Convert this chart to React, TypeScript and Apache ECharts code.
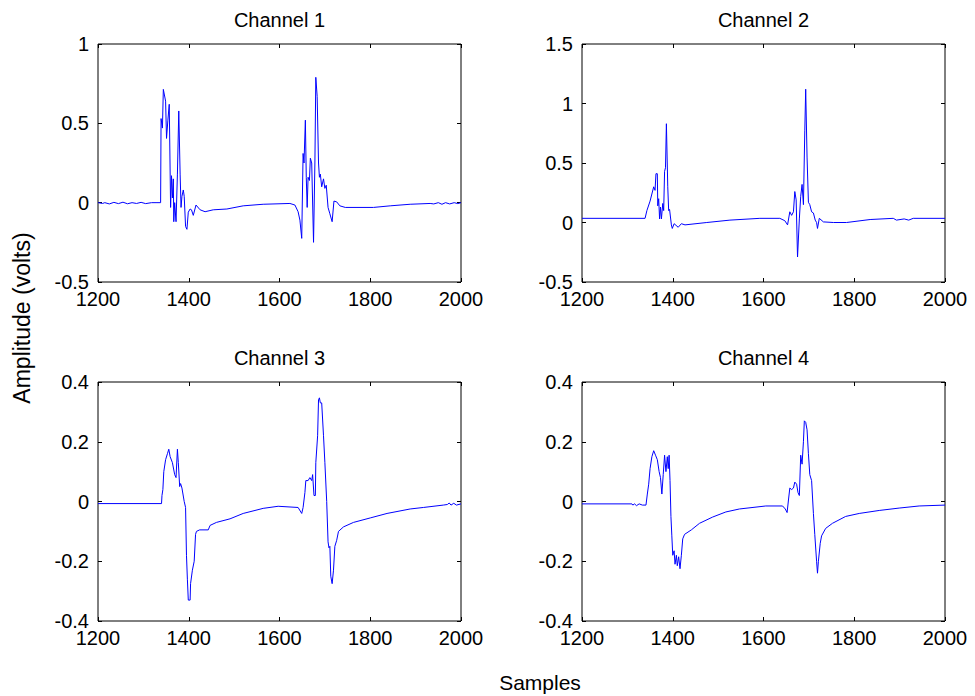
import React, { useEffect, useRef } from "react";
import * as echarts from "echarts";

const channelTitles = ["Channel 1", "Channel 2", "Channel 3", "Channel 4"];
const xRange = [1200, 2000, 200];
const yRanges = [
  [-0.5, 1, 0.5],
  [-0.5, 1.5, 0.5],
  [-0.4, 0.4, 0.2],
  [-0.4, 0.4, 0.2],
];
const xLabel = "Samples";
const yLabel = "Amplitude (volts)";

const ch1: number[][] = [
  [1200, 0], [1210, -0.005], [1215, 0.0], [1225, -0.008], [1235, 0.002], [1245, -0.006],
  [1255, 0.003], [1265, -0.007], [1275, 0.0], [1285, -0.005], [1295, 0.002], [1305, -0.006],
  [1318, 0.0], [1330, 0.0], [1338, 0.0],
  [1339, 0.53], [1342, 0.47], [1344, 0.714], [1349, 0.64], [1351, 0.405], [1354, 0.52],
  [1357, 0.62], [1360, -0.03], [1362, 0.17], [1364, 0.03], [1366, 0.15], [1367, -0.12],
  [1369, 0.0], [1372, -0.12], [1375, 0.18], [1378, 0.578], [1381, 0.18], [1383, -0.03],
  [1385, 0.04], [1388, 0.08], [1390, 0.04], [1393, -0.15], [1396, -0.168], [1399, -0.06],
  [1403, -0.04], [1406, -0.045], [1410, -0.08], [1416, -0.015], [1425, -0.045],
  [1436, -0.057], [1454, -0.045], [1484, -0.04], [1520, -0.02], [1564, -0.01],
  [1623, -0.005], [1634, -0.015], [1641, -0.057], [1645, -0.11], [1649, -0.225],
  [1652, 0.31], [1654, 0.25], [1657, 0.52], [1659, 0.16], [1661, -0.03], [1663, 0.16],
  [1666, 0.14], [1668, 0.28], [1671, 0.25], [1675, -0.25], [1678, 0.25], [1680, 0.79],
  [1683, 0.67], [1686, 0.25], [1688, 0.16], [1690, 0.18], [1693, 0.1], [1697, 0.15],
  [1700, 0.09], [1703, 0.11], [1707, -0.03], [1711, -0.07], [1716, -0.12], [1720, 0.01],
  [1726, 0.005], [1733, -0.02], [1745, -0.03], [1807, -0.03], [1844, -0.02],
  [1888, -0.01], [1932, -0.005], [1940, -0.008], [1950, 0.0], [1958, -0.01], [1966, 0.0],
  [1975, -0.008], [1985, 0.0], [1993, -0.006], [2000, 0.0],
];

const ch2: number[][] = [
  [1200, 0.035], [1339, 0.035], [1343, 0.1], [1350, 0.18], [1358, 0.3], [1361, 0.27],
  [1363, 0.41], [1366, 0.41], [1367, 0.14], [1369, 0.2], [1371, 0.03], [1373, 0.13],
  [1375, 0.03], [1378, 0.16], [1380, 0.1], [1382, 0.43], [1384, 0.46], [1386, 0.83],
  [1389, 0.3], [1391, 0.1], [1393, 0.11], [1397, -0.02], [1399, -0.05], [1403, -0.01],
  [1412, -0.04], [1419, -0.01], [1427, -0.02], [1475, 0.0], [1526, 0.02], [1592, 0.035],
  [1636, 0.035], [1647, 0.015], [1653, -0.02], [1658, 0.09], [1662, 0.06], [1666, 0.09],
  [1669, 0.26], [1672, 0.19], [1675, -0.29], [1679, 0.03], [1682, 0.22], [1685, 0.32],
  [1688, 0.15], [1691, 0.77], [1693, 1.12], [1696, 0.55], [1699, 0.17], [1702, 0.15],
  [1706, 0.09], [1710, 0.08], [1714, 0.02], [1717, 0.0], [1719, -0.05], [1723, 0.035],
  [1732, 0.005], [1754, 0.0], [1783, 0.0], [1835, 0.025], [1886, 0.035], [1893, 0.02],
  [1910, 0.03], [1920, 0.02], [1930, 0.035], [2000, 0.035],
];

const ch3: number[][] = [
  [1200, -0.007], [1340, -0.007], [1341, 0.02], [1343, 0.04], [1345, 0.1], [1349, 0.14],
  [1353, 0.16], [1356, 0.175], [1359, 0.15], [1364, 0.13], [1369, 0.09], [1372, 0.08],
  [1375, 0.175], [1377, 0.13], [1380, 0.05], [1382, 0.06], [1385, 0.045], [1390, 0.0],
  [1393, -0.02], [1395, -0.18], [1397, -0.26], [1399, -0.33], [1403, -0.33], [1404, -0.275],
  [1408, -0.23], [1412, -0.2], [1415, -0.11], [1417, -0.1], [1424, -0.095], [1443, -0.095],
  [1447, -0.08], [1461, -0.07], [1491, -0.058], [1520, -0.04], [1564, -0.023],
  [1597, -0.016], [1641, -0.02], [1649, -0.04], [1652, -0.02], [1656, 0.03], [1658, 0.07],
  [1663, 0.07], [1667, 0.08], [1671, 0.07], [1673, 0.09], [1676, 0.02], [1679, 0.02],
  [1680, 0.13], [1684, 0.22], [1686, 0.34], [1688, 0.347], [1690, 0.33], [1693, 0.33],
  [1697, 0.22], [1700, 0.13], [1704, 0.0], [1707, -0.135], [1709, -0.155], [1711, -0.15],
  [1713, -0.25], [1716, -0.275], [1719, -0.23], [1722, -0.15], [1726, -0.13], [1730, -0.1],
  [1741, -0.085], [1763, -0.07], [1800, -0.055], [1837, -0.04], [1888, -0.025],
  [1917, -0.02], [1961, -0.012], [1970, -0.01], [1974, -0.005], [1978, -0.012],
  [1984, -0.006], [1990, -0.012], [2000, -0.008],
];

const ch4: number[][] = [
  [1200, -0.008], [1310, -0.008], [1312, -0.012], [1316, -0.008], [1320, -0.014],
  [1326, -0.008], [1333, -0.012], [1341, -0.012], [1344, 0.025], [1347, 0.058], [1350, 0.11],
  [1354, 0.15], [1358, 0.17], [1362, 0.155], [1366, 0.14], [1370, 0.1], [1373, 0.08],
  [1376, 0.025], [1379, 0.09], [1382, 0.155], [1385, 0.1], [1388, 0.15], [1390, 0.11],
  [1392, 0.155], [1394, 0.07], [1396, -0.05], [1398, -0.115], [1400, -0.18], [1403, -0.165],
  [1405, -0.21], [1408, -0.18], [1410, -0.215], [1413, -0.185], [1416, -0.225],
  [1419, -0.18], [1422, -0.125], [1426, -0.11], [1441, -0.095], [1459, -0.073],
  [1488, -0.052], [1517, -0.035], [1547, -0.025], [1605, -0.015], [1642, -0.015],
  [1648, -0.025], [1652, -0.037], [1655, 0.005], [1658, 0.045], [1662, 0.04], [1666, 0.045],
  [1669, 0.065], [1673, 0.058], [1676, 0.03], [1679, 0.02], [1682, 0.155], [1685, 0.125],
  [1688, 0.2], [1690, 0.27], [1693, 0.265], [1696, 0.24], [1699, 0.16], [1702, 0.09],
  [1706, 0.07], [1710, -0.04], [1713, -0.11], [1717, -0.2], [1719, -0.24], [1721, -0.2],
  [1725, -0.14], [1728, -0.115], [1737, -0.09], [1752, -0.073], [1781, -0.05],
  [1811, -0.04], [1855, -0.03], [1899, -0.022], [1943, -0.015], [2000, -0.012],
];

const channels = [ch1, ch2, ch3, ch4];

const FONT = "'Liberation Sans', Arial, sans-serif";

const fmtNum = (v: number) => String(Math.round(v * 1000) / 1000);

export default function App() {
  const ref = useRef<HTMLDivElement>(null);

  useEffect(() => {
    if (!ref.current) return;
    const chart = echarts.init(ref.current, undefined, { renderer: "svg" });

    const boxes = [
      { left: 98, top: 44, width: 363, height: 238 },
      { left: 582, top: 44, width: 363, height: 238 },
      { left: 98, top: 382, width: 363, height: 239 },
      { left: 582, top: 382, width: 363, height: 239 },
    ];

    const grid = boxes.map((b) => ({
      ...b,
      show: true,
      borderColor: "#000",
      borderWidth: 1,
      containLabel: false,
    }));

    const tick = { show: true, inside: true, length: 4, lineStyle: { color: "#000", width: 1 } };
    const label = { color: "#000", fontSize: 20, fontFamily: FONT, formatter: fmtNum };
    const noLine = { show: false, onZero: false };

    const xAxis: any[] = [];
    const yAxis: any[] = [];
    const series: any[] = [];
    boxes.forEach((_, i) => {
      const [ymin, ymax, yint] = yRanges[i];
      xAxis.push({
        type: "value", gridIndex: i, position: "bottom",
        min: xRange[0], max: xRange[1], interval: xRange[2],
        axisLine: noLine, axisTick: tick, splitLine: { show: false },
        axisLabel: { ...label, margin: 7, showMinLabel: true, showMaxLabel: true },
      });
      xAxis.push({
        type: "value", gridIndex: i, position: "top",
        min: xRange[0], max: xRange[1], interval: xRange[2],
        axisLine: noLine, axisTick: tick, splitLine: { show: false },
        axisLabel: { show: false },
      });
      yAxis.push({
        type: "value", gridIndex: i, position: "left",
        min: ymin, max: ymax, interval: yint,
        axisLine: noLine, axisTick: tick, splitLine: { show: false },
        axisLabel: { ...label, margin: 9, showMinLabel: true, showMaxLabel: true },
      });
      yAxis.push({
        type: "value", gridIndex: i, position: "right",
        min: ymin, max: ymax, interval: yint,
        axisLine: noLine, axisTick: tick, splitLine: { show: false },
        axisLabel: { show: false },
      });
      series.push({
        type: "line",
        name: channelTitles[i],
        xAxisIndex: 2 * i,
        yAxisIndex: 2 * i,
        data: channels[i],
        showSymbol: false,
        symbol: "none",
        silent: true,
        lineStyle: { color: "#0000ff", width: 1 },
      });
    });

    const graphic: any[] = boxes.map((b, i) => ({
      type: "text",
      x: b.left + b.width / 2,
      y: b.top - 24,
      style: {
        text: channelTitles[i],
        fill: "#000",
        fontSize: 20,
        fontFamily: FONT,
        textAlign: "center",
        textVerticalAlign: "middle",
      },
    }));
    graphic.push({
      type: "text",
      x: 540,
      y: 682,
      style: { text: xLabel, fill: "#000", fontSize: 21, fontFamily: FONT, textAlign: "center", textVerticalAlign: "middle" },
    });
    graphic.push({
      type: "text",
      x: 22,
      y: 318,
      rotation: Math.PI / 2,
      style: { text: yLabel, fill: "#000", fontSize: 23, fontFamily: FONT, textAlign: "center", textVerticalAlign: "middle" },
    });

    chart.setOption({
      animation: false,
      backgroundColor: "#fff",
      grid,
      xAxis,
      yAxis,
      series,
      graphic,
    });

    return () => chart.dispose();
  }, []);

  return (
    <div
      ref={ref}
      style={{ position: "fixed", left: 0, top: 0, width: 975, height: 696 }}
    />
  );
}
